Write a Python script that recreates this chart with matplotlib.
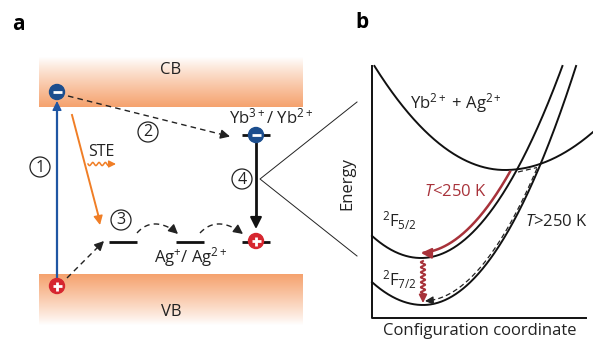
import numpy as np
import matplotlib.pyplot as plt
from matplotlib.colors import LinearSegmentedColormap
from matplotlib.patches import Circle

plt.rcParams['font.family'] = ['Open Sans', 'DejaVu Sans']
plt.rcParams['mathtext.fontset'] = 'custom'
plt.rcParams['mathtext.rm'] = 'Open Sans'
plt.rcParams['mathtext.it'] = 'Open Sans:italic'

W, H = 593, 340
FS = 12

# colours
orange_band = "#F5A26E"
blue_e = "#1C4E8E"
red_h = "#D6262F"
orange_ste = "#F07E26"
dark_red = "#A8323A"
ink = "#222222"

# ---- panel a (pixel layout of the scheme) ----
band_x = [39, 303]
cb_rows = [57, 107]
vb_rows = [274, 325]

electrons = [(57, 92), (256, 135)]
holes = [(57, 286), (256, 241)]

# localized levels: x start, x end, y
levels = [(109, 137, 242), (176, 204, 242), (242, 270, 242), (242, 270, 135)]

step_labels = ["1", "2", "3", "4"]
step_pos = [(40, 167), (148, 132), (121, 220), (242, 179)]

# ---- panel b: potential curves (x of minimum, y of minimum, curvature left/right) ----
curve_x0 = [505, 421, 423]
curve_y0 = [170, 258, 305]
curve_aL = [0.0061, 0.0092, 0.0088]
curve_aR = [0.0049, 0.0096, 0.0102]
axis_left, axis_top, axis_bottom, axis_right = 372, 66, 318, 586


def parabola(x, x0, y0, aL, aR):
    a = np.where(x < x0, aL, aR)
    return y0 - a * (x - x0) ** 2


def wave(p0, p1, periods, amp, n=300):
    p0 = np.array(p0, float)
    p1 = np.array(p1, float)
    t = np.linspace(0, 1, n)
    d = p1 - p0
    nrm = np.array([-d[1], d[0]]) / np.hypot(*d)
    off = amp * np.sin(2 * np.pi * periods * t)
    pts = p0[None, :] + t[:, None] * d[None, :] + off[:, None] * nrm[None, :]
    return pts[:, 0], pts[:, 1]


def bezier(p0, c, p1, n=60):
    t = np.linspace(0, 1, n)[:, None]
    p0, c, p1 = (np.array(p, float) for p in (p0, c, p1))
    pts = (1 - t) ** 2 * p0 + 2 * (1 - t) * t * c + t ** 2 * p1
    return pts[:, 0], pts[:, 1]


def head(ax, start, tip, color, scale=9, lw=1.0):
    ax.annotate("", xy=tip, xytext=start,
                arrowprops=dict(arrowstyle="-|>,head_length=0.7,head_width=0.35",
                                color=color, lw=lw, mutation_scale=scale,
                                shrinkA=0, shrinkB=0))


fig = plt.figure(figsize=(W / 100, H / 100), dpi=100)
ax = fig.add_axes([0, 0, 1, 1])
ax.set_xlim(0, W)
ax.set_ylim(H, 0)
ax.axis("off")

# bands
cmap = LinearSegmentedColormap.from_list("band", ["white", orange_band])
grad = np.linspace(0, 1, 200).reshape(-1, 1) ** 0.9
ax.imshow(grad, cmap=cmap, extent=(band_x[0], band_x[1], cb_rows[1], cb_rows[0]),
          origin="upper", aspect="auto", zorder=0)
ax.imshow(grad[::-1], cmap=cmap, extent=(band_x[0], band_x[1], vb_rows[1], vb_rows[0]),
          origin="upper", aspect="auto", zorder=0)
ax.text(171, 70, "CB", ha="center", va="center", fontsize=FS, color=ink)
ax.text(171, 312, "VB", ha="center", va="center", fontsize=FS, color=ink)

# levels
for x0, x1, y in levels:
    ax.plot([x0, x1], [y, y], color="#111111", lw=2, solid_capstyle="butt", zorder=2)

# 1: excitation (blue)
ax.plot([57, 57], [280, 106], color="#1F56A3", lw=1.6, zorder=2)
head(ax, (57, 112), (57, 101), "#1F56A3", scale=8)

# 2: electron capture by Yb3+ (dashed)
ax.plot([68, 224], [96, 135], color=ink, lw=1.0, ls=(0, (4, 3)), zorder=2)
head(ax, (222, 134.5), (230, 136.5), ink, scale=8)

# STE (orange)
ax.plot([72, 99], [115, 218], color=orange_ste, lw=1.4, zorder=2)
head(ax, (98, 215), (100, 225), orange_ste, scale=8)
ax.text(101, 152, "STE", ha="center", va="center", fontsize=11.5, color=ink)
wx, wy = wave((88, 164), (110, 164), 3.5, 1.6)
ax.plot(wx, wy, color=orange_ste, lw=1.1)
head(ax, (109, 164), (116, 164), orange_ste, scale=6)

# 3: hole transfer to Ag levels (dashed)
ax.plot([67, 99], [278, 246], color=ink, lw=1.0, ls=(0, (4, 3)))
head(ax, (98, 247), (104, 241), ink, scale=8)
bx, by = bezier((137, 233), (152, 216), (175, 231))
ax.plot(bx, by, color=ink, lw=1.0, ls=(0, (4, 3)))
head(ax, (173, 229.5), (178, 234), ink, scale=8)
bx, by = bezier((200, 233), (216, 216), (239, 231))
ax.plot(bx, by, color=ink, lw=1.0, ls=(0, (4, 3)))
head(ax, (237, 229.5), (243, 234), ink, scale=8)

# 4: recombination at Yb
ax.plot([256, 256], [143, 220], color="#111111", lw=2, zorder=2)
head(ax, (256, 216), (256, 229), "#111111", scale=10, lw=1.5)

# carriers
for x, y in electrons:
    ax.add_patch(Circle((x, y), 7.5, color=blue_e, zorder=4))
    ax.plot([x - 4.5, x + 4.5], [y, y], color="white", lw=2, zorder=5,
            solid_capstyle="butt")
for x, y in holes:
    ax.add_patch(Circle((x, y), 7.5, color=red_h, zorder=4))
    ax.plot([x - 4.5, x + 4.5], [y, y], color="white", lw=2, zorder=5,
            solid_capstyle="butt")
    ax.plot([x, x], [y - 4.5, y + 4.5], color="white", lw=2, zorder=5,
            solid_capstyle="butt")

# numbered steps
for lab, (x, y) in zip(step_labels, step_pos):
    ax.add_patch(Circle((x, y), 10, fill=False, ec=ink, lw=0.9))
    ax.text(x, y + 0.5, lab, ha="center", va="center", fontsize=11.5, color=ink)

ax.text(271, 117, r"Yb$^{3+}$/ Yb$^{2+}$", ha="center", va="center", fontsize=FS,
        color=ink)
ax.text(191, 257, r"Ag$^{+}$/ Ag$^{2+}$", ha="center", va="center", fontsize=FS,
        color=ink)

# zoom lines
ax.plot([357, 260, 357], [102, 179, 256], color=ink, lw=0.7)

# panel labels
ax.text(18, 24, "a", ha="center", va="center", fontsize=15, fontweight="bold")
ax.text(362, 23, "b", ha="center", va="center", fontsize=15, fontweight="bold")

# ---- panel b ----
ax.plot([axis_left, axis_left, axis_right], [axis_top, axis_bottom, axis_bottom],
        color="#111111", lw=1.4)
for x0, y0, aL, aR in zip(curve_x0, curve_y0, curve_aL, curve_aR):
    xl = max(axis_left, x0 - np.sqrt((y0 - axis_top) / aL))
    xr = min(W, x0 + np.sqrt((y0 - axis_top) / aR))
    xs = np.linspace(xl, xr, 400)
    ax.plot(xs, parabola(xs, x0, y0, aL, aR), color="#111111", lw=1.4)

# T<250 K path (red) along 2F5/2
xs = np.linspace(424, 510, 200)
ax.plot(xs, parabola(xs, 418, 253, 0.0092, 0.0096), color=dark_red, lw=1.8)
head(ax, (428, 253.2), (421, 253), dark_red, scale=9, lw=1.5)

# non-radiative relaxation (wavy red)
wx, wy = wave((423, 261), (423, 296), 7, 2.2)
ax.plot(wx, wy, color=dark_red, lw=1.4)
head(ax, (423, 296), (423, 303), dark_red, scale=7, lw=1.2)

# T>250 K path (dashed)
ax.plot([518, 537], [172, 167.5], color=ink, lw=0.9, ls=(0, (4, 2.5)))
xs = np.linspace(537, 430, 200)
ax.plot(xs, parabola(xs, 423, 301, 0.0088, 0.0102), color=ink, lw=0.9,
        ls=(0, (4, 2.5)))
head(ax, (431, 300.6), (425, 301), ink, scale=7, lw=0.9)

ax.text(456, 103, r"Yb$^{2+}$ + Ag$^{2+}$", ha="center", va="center", fontsize=FS,
        color=ink)
ax.text(455, 192, r"$T$<250 K", ha="center", va="center", fontsize=FS, color=dark_red)
ax.text(556, 222, r"$T$>250 K", ha="center", va="center", fontsize=FS, color=ink)
ax.text(399, 221, r"$^{2}$F$_{5/2}$", ha="center", va="center", fontsize=FS,
        color=ink)
ax.text(399, 280, r"$^{2}$F$_{7/2}$", ha="center", va="center", fontsize=FS,
        color=ink)
ax.text(347, 183, "Energy", ha="center", va="center", rotation=90, fontsize=FS,
        color=ink)
ax.text(480, 331, "Configuration coordinate", ha="center", va="center", fontsize=FS,
        color=ink)

fig.savefig("out.png", dpi=100)
